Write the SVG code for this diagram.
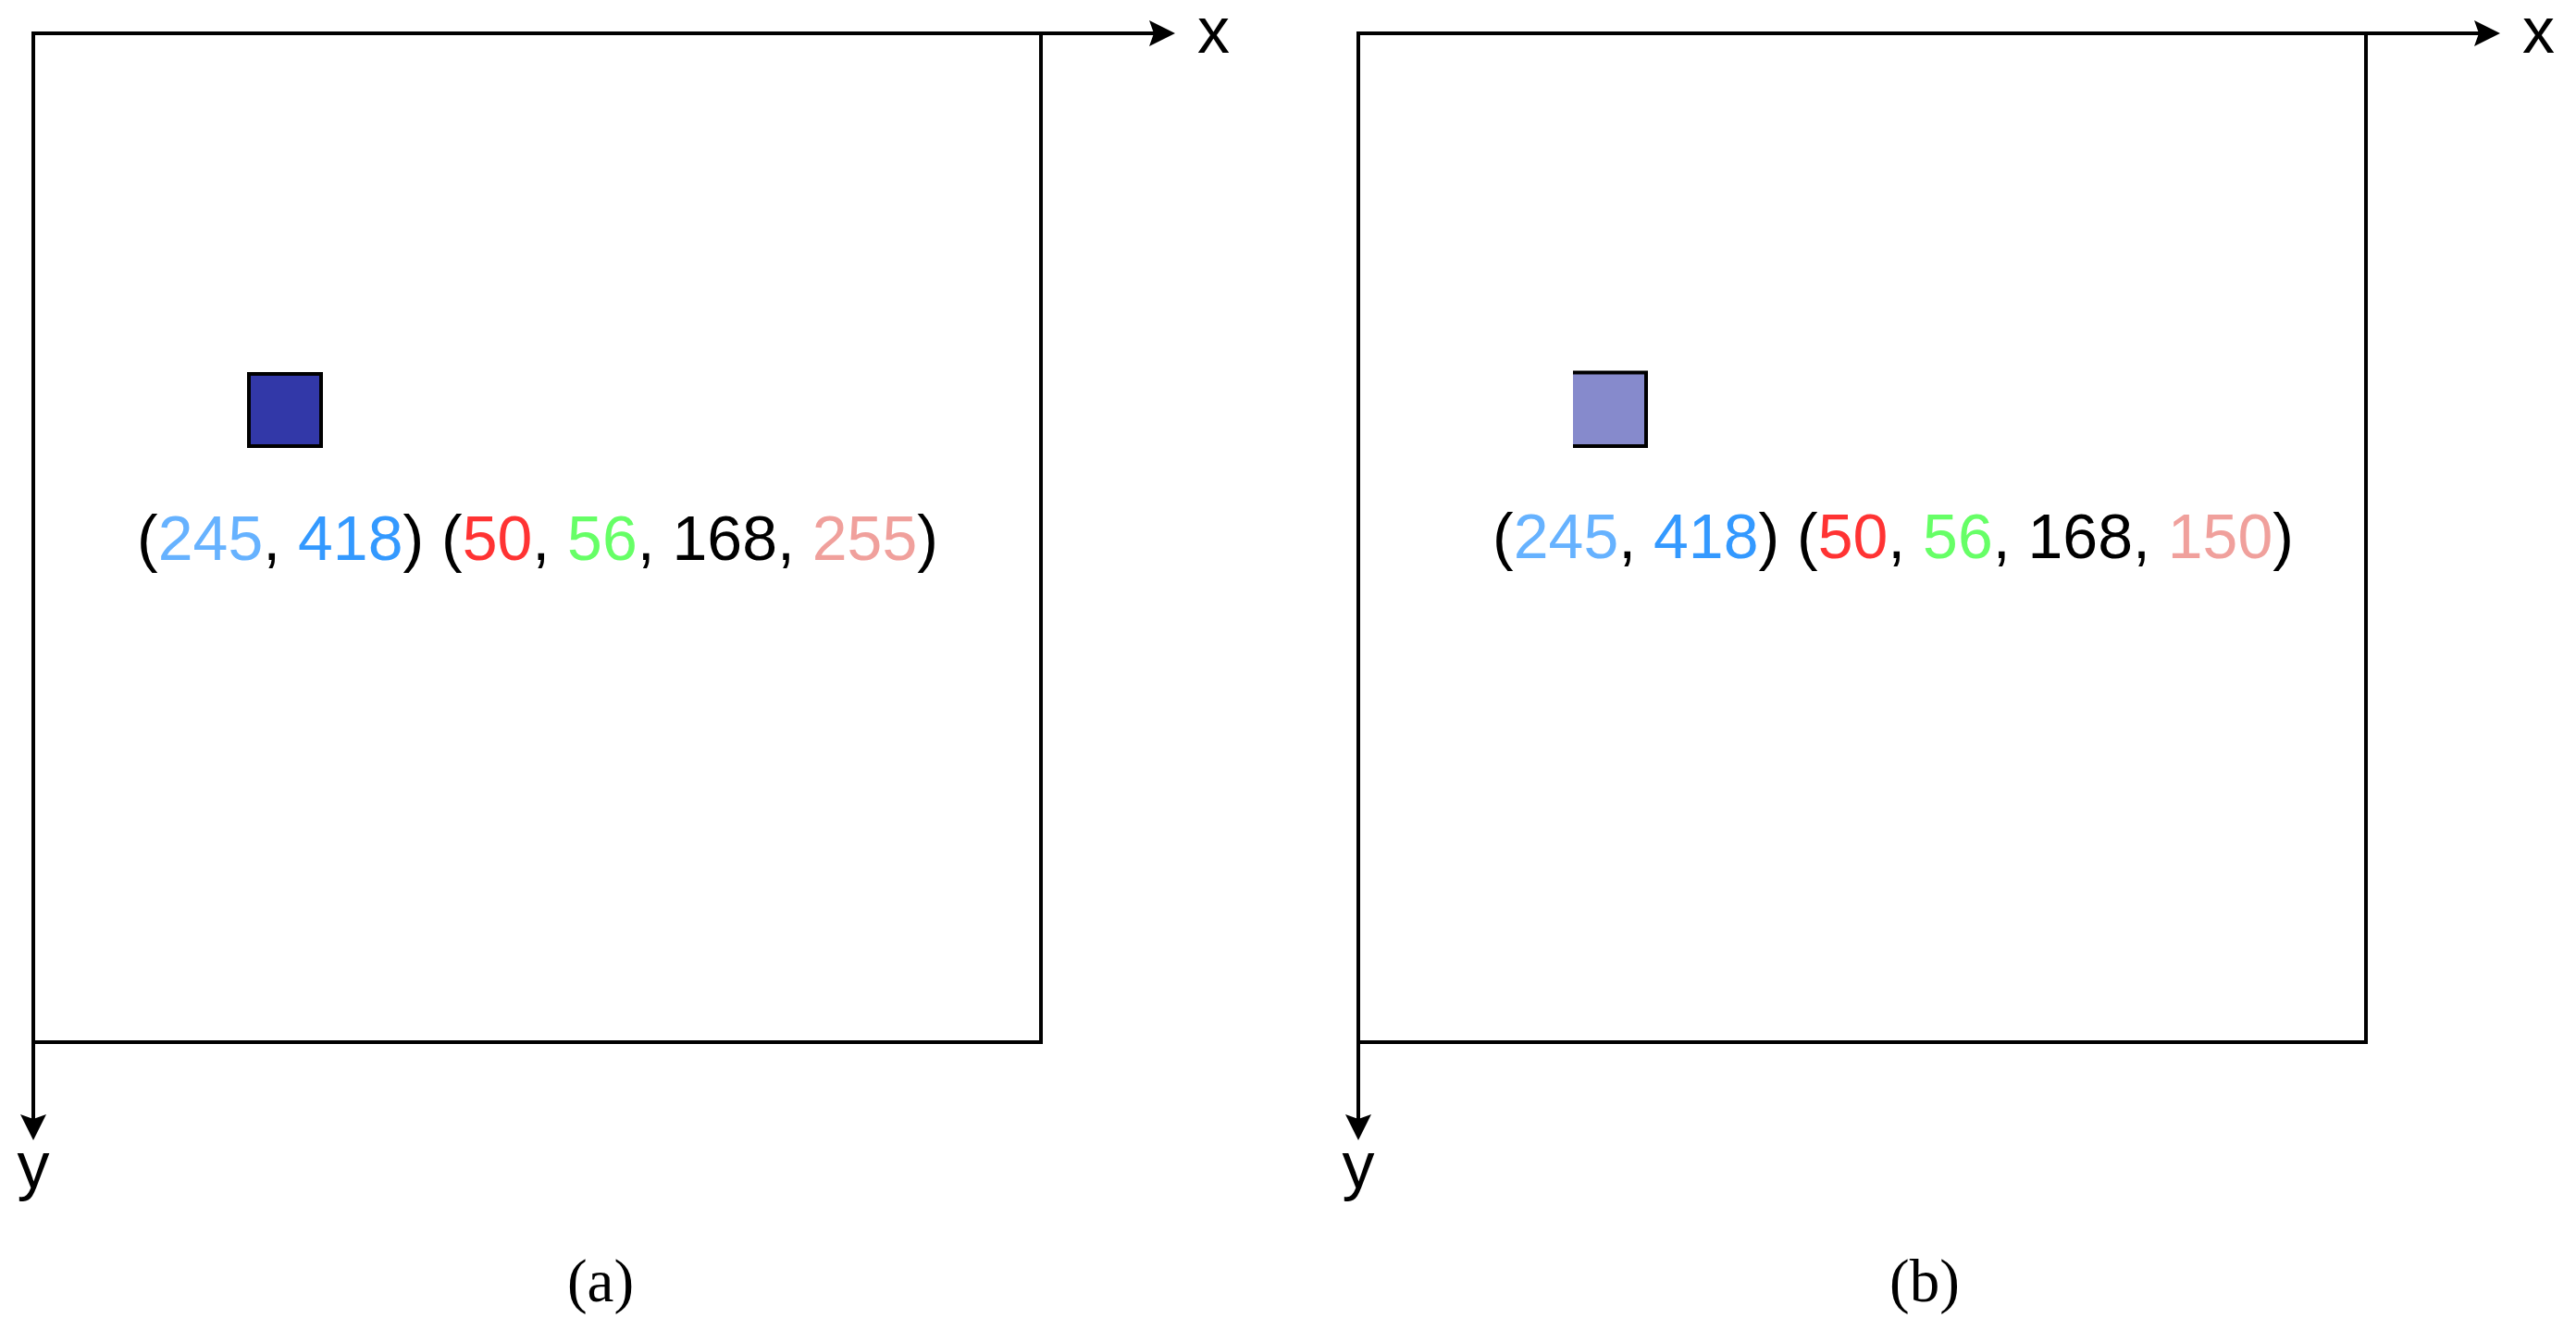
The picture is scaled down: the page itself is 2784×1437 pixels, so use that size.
<svg xmlns="http://www.w3.org/2000/svg" width="2784" height="1437" viewBox="0 0 2784 1437">
  <style>
    .frame { fill: none; stroke: #000; stroke-width: 4; }
    .axis { fill: none; stroke: #000; stroke-width: 4; marker-end: url(#arrow); }
    .lbl { font-family: "Liberation Sans", Arial, sans-serif; font-size: 68px; fill: #000; }
    .ax { font-family: "Liberation Sans", Arial, sans-serif; font-size: 70px; fill: #000; }
    .cap { font-family: "Liberation Serif", "Times New Roman", serif; font-size: 65px; fill: #000; text-anchor: middle; }
    .c1 { fill: #66B2FF; }
    .c2 { fill: #3399FF; }
    .cr { fill: #FF3333; }
    .cg { fill: #66FF66; }
    .ca { fill: #F0A09C; }
  </style>
  <defs>
    <marker id="arrow" markerUnits="userSpaceOnUse" markerWidth="40" markerHeight="40" viewBox="-10 -20 40 40" refX="0" refY="0" orient="auto">
      <path d="M22,0 L-6,-14 L-1,0 L-6,14 Z" fill="#000"/>
    </marker>
  </defs>
  <rect width="2784" height="1437" fill="#fff"/>

  <g id="panel-a">
    <path class="frame" d="M1125,36 V1126 H36"/>
    <rect id="pixel-a" x="269" y="404" width="78" height="78" fill="#3238A8" stroke="#000" stroke-width="4"/>
    <text class="lbl" x="581" y="605" text-anchor="middle">(<tspan class="c1">245</tspan>, <tspan class="c2">418</tspan>) (<tspan class="cr">50</tspan>, <tspan class="cg">56</tspan>, 168, <tspan class="ca">255</tspan>)</text>
    <text class="ax" x="1294" y="57">x</text>
    <text class="ax" x="36" y="1283" text-anchor="middle">y</text>
    <text class="cap" x="649" y="1406">(a)</text>
  </g>

  <g id="panel-b">
    <path class="frame" d="M2557,36 V1126 H1468"/>
    <rect id="pixel-b" x="1700" y="402" width="79" height="80" fill="#868ACC"/>
    <path d="M1700,402.5 H1781 M1779,402 V484 M1700,482 H1781" fill="none" stroke="#000" stroke-width="4"/>
    <path d="M1700,402.5 H1779" fill="none" stroke="#000" stroke-width="1.5"/>
    <text class="lbl" x="2046" y="603" text-anchor="middle">(<tspan class="c1">245</tspan>, <tspan class="c2">418</tspan>) (<tspan class="cr">50</tspan>, <tspan class="cg">56</tspan>, 168, <tspan class="ca">150</tspan>)</text>
    <text class="ax" x="2726" y="57">x</text>
    <text class="ax" x="1468" y="1283" text-anchor="middle">y</text>
    <text class="cap" x="2080" y="1406">(b)</text>
  </g>

  <g id="connectors">
    <line class="axis" x1="34" y1="36" x2="1248" y2="36"/>
    <line class="axis" x1="36" y1="34" x2="36" y2="1210"/>
    <line class="axis" x1="1466" y1="36" x2="2680" y2="36"/>
    <line class="axis" x1="1468" y1="34" x2="1468" y2="1210"/>
  </g>
</svg>
